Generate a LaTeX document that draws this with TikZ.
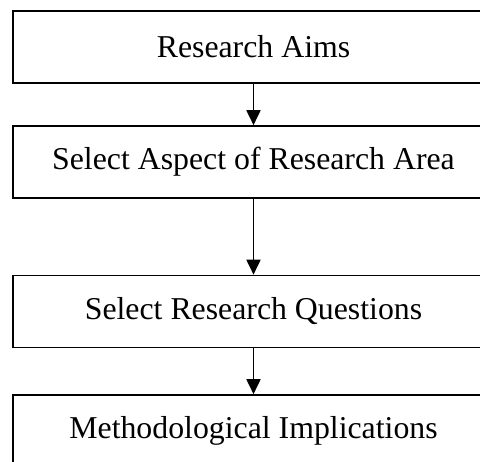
\documentclass[tikz,border=0pt]{standalone}
\usepackage{fontspec}
\setmainfont{Liberation Serif}
\usetikzlibrary{arrows.meta}
\begin{document}
\begin{tikzpicture}[x=1pt,y=1pt,
  stage/.style={draw=black, line width=1.6pt, rectangle, minimum width=481pt, minimum height=72pt, inner sep=0pt, font=\fontsize{31.8}{38}\selectfont},
  flow/.style={line width=1.8pt, -{Triangle[length=15pt,width=14pt]}}]
\useasboundingbox (0,0) rectangle (480,462);
\clip (0,0) rectangle (480,462);
\fill[white] (0,0) rectangle (480,462);
\node[stage] (aims) at (253.5,415) {Research Aims};
\node[stage] (aspect) at (253.5,300) {Select Aspect of Research Area};
\node[stage] (questions) at (253.5,150.5) {Select Research Questions};
\node[stage] (method) at (253.5,31) {Methodological Implications};
\draw[flow] (aims) -- (aspect);
\draw[flow] (aspect) -- (questions);
\draw[flow] (questions) -- (method);
\end{tikzpicture}
\end{document}
